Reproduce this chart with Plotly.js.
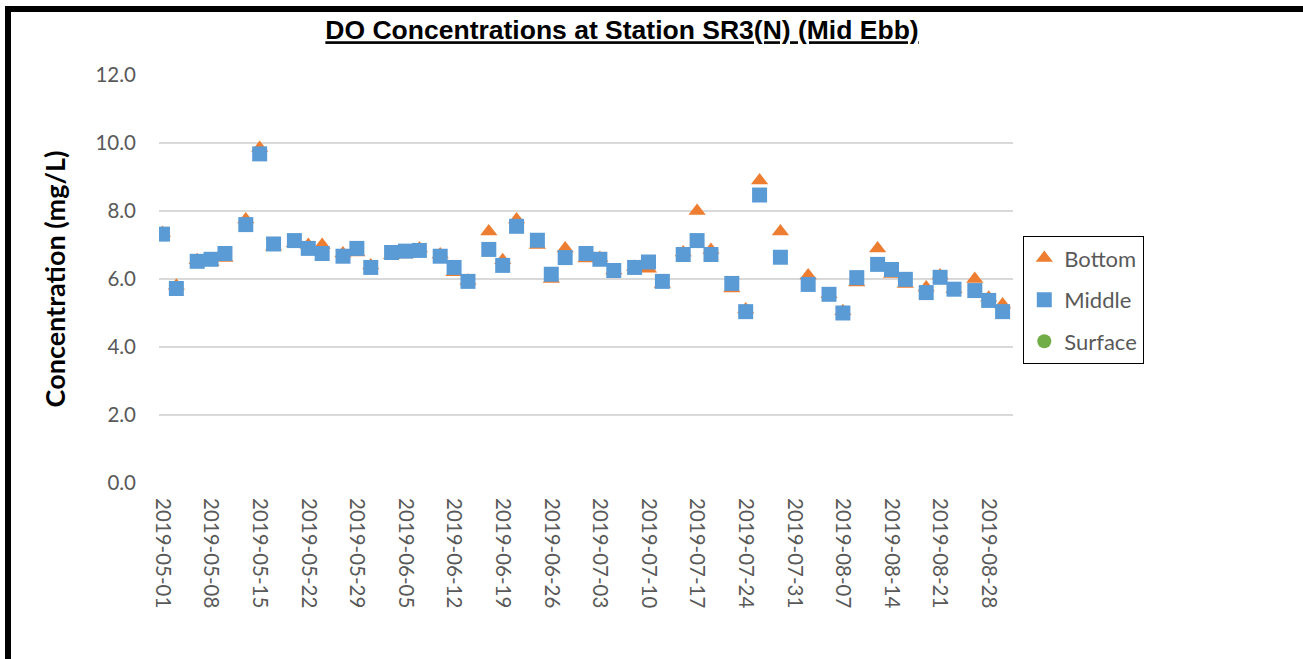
<!DOCTYPE html>
<html>
<head>
<meta charset="utf-8">
<script src="https://cdn.plot.ly/plotly-3.0.1.min.js"></script>
<style>
html, body { margin: 0; padding: 0; background: #fff; overflow: hidden; }
#chart { position: absolute; left: 0; top: 0; width: 1303px; height: 659px; }
#frame { position: absolute; left: 5px; top: 6px; width: 1310px; height: 670px;
  border-top: 6px solid #000; border-left: 6px solid #000; pointer-events: none; }
</style>
</head>
<body>
<div id="chart"></div>
<div id="frame"></div>
<script>
const dates = ['2019-05-01','2019-05-03','2019-05-06','2019-05-08','2019-05-10','2019-05-13','2019-05-15','2019-05-17',
  '2019-05-20','2019-05-22','2019-05-24','2019-05-27','2019-05-29','2019-05-31','2019-06-03','2019-06-05',
  '2019-06-07','2019-06-10','2019-06-12','2019-06-14','2019-06-17','2019-06-19','2019-06-21','2019-06-24',
  '2019-06-26','2019-06-28','2019-07-01','2019-07-03','2019-07-05','2019-07-08','2019-07-10','2019-07-12',
  '2019-07-15','2019-07-17','2019-07-19','2019-07-22','2019-07-24','2019-07-26','2019-07-29','2019-08-02',
  '2019-08-05','2019-08-07','2019-08-09','2019-08-12','2019-08-14','2019-08-16','2019-08-19','2019-08-21',
  '2019-08-23','2019-08-26','2019-08-28','2019-08-30'];
const bottom = [7.35,5.80,6.55,6.50,6.62,7.75,9.85,6.95,
  7.05,7.00,7.00,6.75,6.78,6.40,6.70,6.72,
  6.90,6.72,6.20,5.95,7.40,6.55,7.75,7.00,
  6.00,6.90,6.60,6.62,6.25,6.35,6.30,5.85,
  6.78,8.00,6.85,5.72,5.10,8.90,7.40,6.10,
  5.55,5.05,5.90,6.90,6.15,5.85,5.75,6.10,
  5.70,6.00,5.45,5.25];
const middle = [7.32,5.72,6.52,6.58,6.75,7.60,9.68,7.03,
  7.13,6.90,6.75,6.67,6.90,6.34,6.78,6.82,
  6.84,6.67,6.34,5.93,6.87,6.40,7.55,7.14,
  6.14,6.63,6.75,6.58,6.25,6.34,6.50,5.93,
  6.72,7.13,6.72,5.87,5.04,8.47,6.64,5.84,
  5.55,5.00,6.04,6.43,6.28,5.99,5.60,6.05,
  5.70,5.66,5.37,5.04];
const surface = dates.map(() => null);
const seriesNames = ['Bottom','Middle','Surface'];
const yTickVals = [0,2,4,6,8,10,12];
const yTickText = ['0.0','2.0','4.0','6.0','8.0','10.0','12.0'];
const titleText = 'DO Concentrations at Station SR3(N) (Mid Ebb)';
const yTitle = 'Concentration (mg/L)';

const traces = [
  {x: dates, y: bottom, name: seriesNames[0], type: 'scatter', mode: 'markers', legendgroup: 'b',
   marker: {symbol: 'triangle-up', size: 15, color: '#ED7D31'}},
  {x: dates, y: middle, name: seriesNames[1], type: 'scatter', mode: 'markers', legendgroup: 'm',
   marker: {symbol: 'square', size: 15, color: '#5B9BD5'}},
  {x: dates, y: surface, name: seriesNames[2], type: 'scatter', mode: 'markers', legendgroup: 's',
   marker: {symbol: 'circle', size: 14, color: '#70AD47'}}
];

const layout = {
  width: 1303, height: 659,
  margin: {l: 159, r: 290, t: 75, b: 176},
  paper_bgcolor: '#fff', plot_bgcolor: '#fff',
  showlegend: true,
  title: {text: titleText, x: 622/1303, xanchor: 'center', xref: 'container',
    y: 1 - 30/659, yanchor: 'middle', yref: 'container',
    font: {family: 'Liberation Sans, Arial, sans-serif', size: 26.5, color: '#000', weight: 'bold', lineposition: 'under'}},
  xaxis: {type: 'date', range: ['2019-04-30 12:00', '2019-08-31 12:00'],
    tick0: '2019-05-01', dtick: 7*86400000, tickformat: '%Y-%m-%d', tickangle: 90,
    showgrid: false, zeroline: false, showline: false, ticks: '',
    ticklabelstandoff: 14,
    tickfont: {family: 'Lato, sans-serif', size: 20.5, color: '#595959'}},
  yaxis: {range: [0, 12], tickvals: yTickVals, ticktext: yTickText,
    showgrid: true, gridcolor: '#D9D9D9', gridwidth: 1.3, zeroline: false, showline: false, ticks: '',
    ticklabelstandoff: 22,
    tickfont: {family: 'Lato, sans-serif', size: 20.5, color: '#595959'},
    title: {text: yTitle, standoff: 22, font: {family: 'Lato, sans-serif', size: 27, color: '#000', weight: 'bold'}}},
  legend: {x: (1023-159)/854, xanchor: 'left', y: (483-236)/408, yanchor: 'top',
    bordercolor: '#000', borderwidth: 1.3, bgcolor: '#fff',
    traceorder: 'grouped', tracegroupgap: 10,
    font: {family: 'Lato, sans-serif', size: 22, color: '#595959'}}
};

Plotly.newPlot('chart', traces, layout, {displayModeBar: false, staticPlot: true});
</script>
</body>
</html>
